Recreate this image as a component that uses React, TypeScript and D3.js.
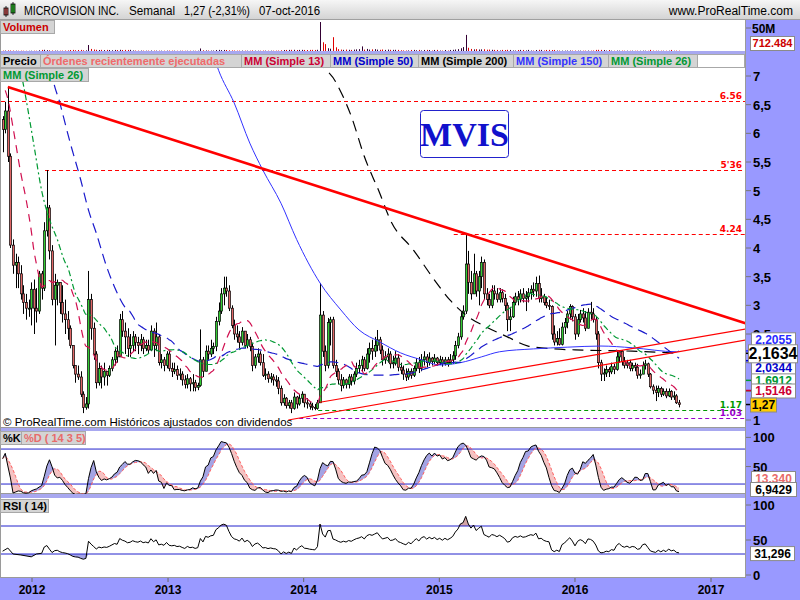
import React from 'react';
import * as d3 from 'd3';

// ---------- DATA ----------
const firstWeek = new Date(2011, 9, 14);
const firstOpen = 6.24;
const closes = [
  6.07, 6.39, 5.6, 4.05, 3.7, 3.75, 3.55, 3.2, 3.05, 2.95,
  2.95, 3.28, 2.95, 2.9, 3.55, 3.3, 4.3, 4.7, 3.95, 3.1,
  3.35, 3.4, 3.05, 2.85, 2.75, 2.6, 2.3, 1.95, 1.8, 1.75,
  1.45, 1.22, 1.28, 3.1, 2.6, 2.15, 1.65, 1.9, 1.75, 1.85,
  1.78, 1.9, 2.05, 2.2, 2.1, 2.75, 2.55, 2.45, 2.25, 2.3,
  2.45, 2.35, 2.3, 2.4, 2.25, 2.3, 2.22, 2.55, 2.3, 2.45,
  2.0, 2.05, 1.95, 2.15, 1.9, 1.85, 1.88, 1.78, 1.8, 1.7,
  1.62, 1.72, 1.63, 1.65, 1.57, 1.6, 2.05, 1.85, 2.2, 2.15,
  2.25, 2.28, 2.72, 2.9, 3.2, 3.3, 3.25, 2.95, 2.65, 2.5,
  2.45, 2.35, 2.55, 2.3, 2.4, 2.28, 1.95, 2.1, 2.15, 2.0,
  1.78, 1.8, 1.72, 1.75, 1.7, 1.68, 1.55, 1.3, 1.38, 1.25,
  1.3, 1.2, 1.4, 1.28, 1.38, 1.45, 1.3, 1.28, 1.24, 1.22,
  1.2, 1.3, 2.83, 2.2, 1.95, 2.7, 2.75, 1.95, 1.85, 1.7,
  1.6, 1.7, 1.62, 1.75, 1.68, 1.8, 1.9, 1.95, 2.05, 1.9,
  2.15, 2.25, 2.2, 2.3, 2.4, 2.22, 2.05, 2.1, 2.15, 1.98,
  2.0, 2.08, 1.92, 1.87, 1.8, 1.75, 1.85, 1.78, 1.9, 2.0,
  1.9, 2.05, 2.1, 2.0, 2.08, 2.02, 2.08, 2.0, 2.05, 1.98,
  2.05, 2.0, 2.05, 2.12, 2.3, 2.45, 2.8, 2.9, 3.72, 3.4,
  3.2, 3.55, 3.25, 3.5, 3.75, 3.2, 3.1, 3.0, 3.25, 3.2,
  3.1, 3.22, 3.12, 3.0, 2.75, 2.8, 3.05, 3.15, 3.1, 3.2,
  3.12, 3.15, 3.22, 3.28, 3.25, 3.38, 3.12, 3.15, 3.05, 3.0,
  2.98, 2.5, 2.36, 2.42, 2.32, 2.62, 2.7, 2.85, 2.98, 2.8,
  2.5, 2.75, 2.85, 2.78, 2.6, 2.88, 2.85, 2.75, 2.5, 2.0,
  1.8, 1.82, 1.88, 1.84, 1.93, 1.88, 2.1, 2.2, 2.02, 1.95,
  2.0, 1.9, 1.95, 1.92, 1.78, 1.8, 1.95, 1.98, 1.8, 1.58,
  1.52, 1.48, 1.55, 1.45, 1.5, 1.42, 1.5, 1.4, 1.42, 1.3, 1.27,
];
const highs = [
  6.3, 6.55, 6.81, 5.65, 4.15, 3.9, 3.85, 3.7, 3.35, 3.2,
  3.1, 3.4, 3.45, 3.3, 3.6, 3.6, 4.45, 5.36, 4.75, 4.05,
  3.55, 3.45, 3.4, 3.35, 3.1, 2.9, 2.65, 2.3, 1.95, 1.95,
  1.85, 1.5, 1.4, 3.6, 3.2, 2.7, 2.2, 2.0, 1.95, 2.0,
  1.85, 1.95, 2.1, 2.25, 2.3, 2.85, 2.9, 2.7, 2.6, 2.5,
  2.55, 2.5, 2.45, 2.5, 2.45, 2.4, 2.4, 2.65, 2.6, 2.7,
  2.5, 2.15, 2.1, 2.2, 2.2, 2.0, 2.0, 1.95, 1.9, 1.85,
  1.78, 1.8, 1.75, 1.8, 1.7, 1.65, 2.58, 2.1, 2.3, 2.3,
  2.4, 2.35, 2.8, 3.05, 3.3, 3.5, 3.5, 3.35, 3.0, 2.75,
  2.65, 2.55, 2.62, 2.55, 2.5, 2.45, 2.35, 2.15, 2.25, 2.2,
  2.15, 1.9, 1.85, 1.82, 1.8, 1.78, 1.75, 1.6, 1.45, 1.4,
  1.35, 1.35, 1.48, 1.42, 1.45, 1.5, 1.45, 1.38, 1.32, 1.3,
  1.28, 1.35, 3.39, 2.9, 2.3, 2.78, 2.8, 2.8, 2.05, 1.9,
  1.8, 1.75, 1.72, 1.8, 1.8, 1.85, 2.0, 2.05, 2.12, 2.1,
  2.25, 2.35, 2.4, 2.45, 2.57, 2.45, 2.3, 2.2, 2.25, 2.2,
  2.12, 2.2, 2.15, 2.0, 1.95, 1.9, 1.9, 1.9, 1.95, 2.08,
  2.1, 2.15, 2.2, 2.15, 2.18, 2.1, 2.15, 2.1, 2.12, 2.1,
  2.1, 2.1, 2.15, 2.2, 2.38, 2.52, 2.88, 3.0, 4.23, 3.95,
  3.6, 3.9, 3.6, 3.6, 3.85, 3.8, 3.3, 3.2, 3.35, 3.35,
  3.3, 3.3, 3.28, 3.2, 3.05, 2.95, 3.15, 3.22, 3.25, 3.28,
  3.3, 3.25, 3.3, 3.35, 3.4, 3.5, 3.52, 3.3, 3.2, 3.15,
  3.1, 3.0, 2.65, 2.55, 2.6, 2.7, 2.78, 2.9, 3.02, 3.0,
  2.85, 2.85, 2.92, 2.95, 2.9, 2.95, 3.06, 2.95, 2.8, 2.55,
  2.05, 1.9, 1.95, 1.92, 2.0, 1.98, 2.2, 2.22, 2.22, 2.1,
  2.05, 2.05, 2.0, 2.0, 1.98, 1.88, 2.02, 2.05, 2.0, 1.82,
  1.62, 1.6, 1.6, 1.58, 1.55, 1.55, 1.55, 1.52, 1.5, 1.45, 1.35,
];
const lows = [
  5.67, 6.0, 5.5, 4.0, 3.55, 3.3, 3.3, 3.1, 2.85, 2.75,
  2.8, 2.65, 2.5, 2.7, 2.85, 3.1, 3.25, 4.2, 3.8, 3.0,
  2.3, 3.0, 2.85, 2.7, 2.5, 2.4, 2.25, 1.9, 1.65, 1.7,
  1.4, 1.12, 1.18, 1.2, 2.4, 2.05, 1.55, 1.6, 1.55, 1.6,
  1.6, 1.75, 1.85, 1.95, 2.0, 2.1, 2.45, 2.15, 2.1, 2.1,
  2.2, 2.2, 2.15, 2.2, 2.15, 2.2, 2.15, 2.2, 2.1, 2.2,
  1.95, 1.9, 1.85, 1.9, 1.85, 1.75, 1.8, 1.7, 1.7, 1.6,
  1.55, 1.55, 1.5, 1.5, 1.5, 1.52, 1.58, 1.75, 1.85, 2.05,
  2.1, 2.15, 2.2, 2.65, 2.85, 3.0, 3.15, 2.9, 2.6, 2.4,
  2.35, 2.25, 2.3, 2.25, 2.25, 2.2, 1.85, 1.9, 2.0, 1.95,
  1.75, 1.7, 1.65, 1.65, 1.6, 1.58, 1.45, 1.25, 1.25, 1.2,
  1.2, 1.12, 1.18, 1.2, 1.25, 1.3, 1.22, 1.2, 1.18, 1.17,
  1.17, 1.18, 1.3, 2.1, 1.85, 1.9, 2.3, 1.9, 1.75, 1.62,
  1.5, 1.55, 1.55, 1.55, 1.6, 1.62, 1.75, 1.82, 1.85, 1.85,
  1.88, 2.0, 2.05, 2.1, 2.2, 2.15, 1.95, 1.98, 2.0, 1.9,
  1.9, 1.95, 1.85, 1.8, 1.7, 1.68, 1.7, 1.72, 1.75, 1.85,
  1.82, 1.85, 1.95, 1.92, 1.95, 1.95, 1.98, 1.95, 1.96, 1.93,
  1.95, 1.93, 1.98, 1.98, 2.05, 2.25, 2.4, 2.75, 2.85, 3.2,
  3.1, 3.2, 3.15, 3.0, 3.3, 3.1, 3.0, 2.95, 2.95, 3.1,
  3.05, 3.05, 3.05, 2.9, 2.55, 2.55, 2.78, 3.0, 3.0, 3.05,
  3.05, 2.9, 3.05, 3.1, 3.15, 3.15, 3.05, 3.05, 3.0, 2.95,
  2.92, 2.4, 2.3, 2.3, 2.3, 2.3, 2.5, 2.6, 2.75, 2.72,
  2.4, 2.45, 2.7, 2.7, 2.55, 2.6, 2.75, 2.7, 2.4, 1.9,
  1.68, 1.68, 1.75, 1.75, 1.8, 1.8, 1.86, 2.0, 1.95, 1.9,
  1.9, 1.85, 1.85, 1.85, 1.72, 1.72, 1.8, 1.88, 1.75, 1.55,
  1.45, 1.33, 1.4, 1.4, 1.42, 1.38, 1.4, 1.35, 1.35, 1.28, 1.22,
];
// weekly volume, millions of shares
const volumes = [
  0.8, 0.9, 1.2, 1.0, 0.9, 0.7, 0.6, 0.7, 0.6, 0.5,
  0.5, 0.6, 0.7, 0.6, 1.5, 2.4, 2.6, 1.8, 1.5, 1.0,
  0.9, 0.8, 0.7, 0.8, 1.0, 1.2, 2.2, 2.4, 1.6, 2.2,
  2.4, 1.5, 1.4, 13, 4.5, 3.2, 2.6, 2.2, 2.5, 2.0,
  2.4, 2.2, 1.6, 2.3, 2.0, 2.6, 2.2, 2.4, 2.3, 2.5,
  1.2, 1.0, 0.8, 0.9, 0.8, 0.7, 0.8, 1.0, 0.9, 0.8,
  0.8, 0.7, 0.7, 0.8, 0.9, 0.8, 0.7, 0.6, 0.6, 0.7,
  0.6, 0.6, 0.7, 0.6, 0.6, 0.7, 5.5, 1.5, 1.2, 1.0,
  0.9, 1.0, 2.2, 2.4, 2.0, 2.3, 2.2, 1.5, 1.2, 1.0,
  0.8, 0.8, 0.9, 0.8, 0.7, 0.7, 1.2, 0.8, 0.7, 0.7,
  0.9, 0.8, 0.7, 0.7, 0.7, 0.8, 0.9, 1.5, 2.2, 2.3,
  2.4, 2.5, 2.6, 2.2, 2.4, 2.5, 2.3, 2.2, 2.4, 2.5,
  2.3, 2.6, 63, 19, 15, 6, 5, 30, 8, 4,
  3, 2.5, 3, 2.6, 2.4, 3, 3.5, 4, 10, 3,
  4.5, 3, 3.5, 4, 3, 2.6, 3.2, 2.4, 3, 2.6,
  2.5, 2.6, 2.4, 1.5, 1.2, 1.0, 1.2, 2.3, 2.4, 1.5,
  2.4, 1.2, 2.3, 2.4, 2.2, 1.0, 2.3, 2.4, 1.0, 0.9,
  2.2, 1.0, 2.3, 2.6, 3.2, 4, 6, 8.5, 35, 7,
  4.5, 3.5, 4, 3.2, 3.5, 3.8, 2.8, 3, 2.6, 2.4,
  2.3, 1.2, 2.4, 2.2, 2.5, 2.3, 1.2, 1.0, 2.2, 2.4,
  2.3, 1.2, 2.4, 1.0, 0.9, 2.2, 2.5, 2.4, 1.2, 2.3,
  2.4, 2.2, 2.3, 1.0, 0.9, 0.8, 0.8, 0.9, 1.0, 0.8,
  0.9, 0.8, 0.8, 0.7, 0.8, 0.9, 0.8, 1.0, 2.4, 2.5,
  2.4, 2.2, 0.9, 2.2, 0.8, 0.7, 0.9, 0.8, 0.8, 0.7,
  0.7, 0.6, 0.7, 0.6, 0.7, 0.6, 0.8, 0.7, 0.6, 2.4,
  0.8, 0.7, 0.6, 0.7, 0.6, 0.6, 0.7, 2.3, 0.6, 0.8, 0.71,
];
const sma13Lead = [[1, 6.75], [2, 6.6], [4, 6.1], [7, 5.3], [9, 4.85], [11, 4.3]];
const sma26Lead = [[6, 7.4], [7, 7.1], [9, 6.6], [12, 5.8], [15, 5.0], [18, 4.5], [21, 4.15], [24, 3.75]];
const sma50Lead = [[18, 7.4], [19, 7.05], [22, 6.53], [26, 5.83], [30, 5.19], [33, 4.66], [36, 4.26], [40, 3.67], [43, 3.32], [47, 2.97]];
const sma150Pts = [[80, 7.5], [83, 7.1], [89, 6.53], [95, 5.83], [100, 5.36], [107, 4.78], [113, 4.15], [122, 3.39], [130, 2.92], [137, 2.57], [145, 2.36], [153, 2.17], [161, 2.05], [168, 1.96], [176, 2.0], [184, 2.1], [191, 2.19], [204, 2.24], [217, 2.27], [230, 2.29], [242, 2.26], [259, 2.19], [260, 2.2055]];
const sma200Pts = [[119, 7.6], [121, 7.35], [128, 6.9], [134, 6.3], [139, 5.6], [145, 4.95], [149, 4.49], [158, 3.96], [166, 3.44], [172, 3.09], [179, 2.8], [186, 2.62], [194, 2.45], [202, 2.29], [212, 2.24], [223, 2.22], [242, 2.2], [260, 2.1634]];
const rsiLead = [[0, 34], [2, 38.5], [4, 30], [7, 28.6], [11, 26], [13, 30], [15, 31], [16, 40]];

const priceTicks = [1, 1.5, 2, 2.5, 3, 3.5, 4, 4.5, 5, 5.5, 6, 6.5, 7];
const yearTicks = [2012, 2013, 2014, 2015, 2016, 2017];
const levels = [
  { v: 6.56, label: '6.56', color: '#ff0000', from: -2 },
  { v: 5.36, label: "5'36", color: '#ff0000', from: 16.3 },
  { v: 4.24, label: '4.24', color: '#ff0000', from: 173.4 },
  { v: 1.17, label: '1.17', color: '#009900', from: 121.3 },
  { v: 1.03, label: '1.03', color: '#9900cc', from: 114 },
];
const trendLines = [
  { a: [2, 6.81], b: [286, 2.68], w: 2.6 },
  { a: [122, 1.31], b: [286, 2.59], w: 1.2 },
  { a: [109.8, 1.0], b: [286, 2.4], w: 1.2 },
];
const maLabels = [
  { v: 2.2055, text: '2,2055', color: '#2a2aff', slot: -1 },
  { v: 2.1634, text: '2,1634', color: '#000000', slot: 0 },
  { v: 2.0344, text: '2,0344', color: '#0000cc', slot: 1 },
  { v: 1.6912, text: '1,6912', color: '#009933', slot: 2 },
  { v: 1.5146, text: '1,5146', color: '#cc0033', slot: 2 },
];
const lastPrice = { v: 1.27, text: '1,27' };
const stochLabels = { k: '6,9429', d: '13,340' };
const rsiLabel = '31,296';
const volLabel = '712.484';
const titleParts = [
  { t: 'MICROVISION INC.', x: 24, w: 95 },
  { t: 'Semanal', x: 129, w: 46 },
  { t: '1,27 (-2,31%)', x: 184, w: 66 },
  { t: '07-oct-2016', x: 259, w: 61 },
];
const legendItems = [
  { t: 'Precio', c: '#000000', x0: 1, x1: 40 },
  { t: 'Órdenes recientemente ejecutadas', c: '#f06a6a', x0: 41, x1: 241 },
  { t: 'MM (Simple 13)', c: '#cc0033', x0: 242, x1: 330 },
  { t: 'MM (Simple 50)', c: '#0000cc', x0: 331, x1: 418 },
  { t: 'MM (Simple 200)', c: '#000000', x0: 419, x1: 513 },
  { t: 'MM (Simple 150)', c: '#3333ff', x0: 514, x1: 608 },
  { t: 'MM (Simple 26)', c: '#009933', x0: 609, x1: 697 },
];

// ---------- HELPERS ----------
const FONT = '"Liberation Sans", Arial, Helvetica, sans-serif';
const PURPLE = '#9999ff';
const xS = d3.scaleTime().domain([new Date(2012, 0, 1), new Date(2017, 0, 1)]).range([32, 711]);
const wx = (i: number) => xS(new Date(firstWeek.getTime() + i * 7 * 864e5));
const yP = d3.scaleLinear().domain([1, 7]).range([420, 76]);
const yV = d3.scaleLinear().domain([0, 50]).range([51, 28]);
const yK = d3.scaleLinear().domain([0, 100]).range([495.7, 437.4]);
const yR = d3.scaleLinear().domain([0, 100]).range([575, 505]);

const opens = closes.map((c, i) => (i === 0 ? firstOpen : closes[i - 1]));
const sma = (arr: number[], n: number) => arr.map((_, i) => (i < n - 1 ? null : (d3.mean(arr.slice(i - n + 1, i + 1)) as number)));
const withLead = (lead: number[][], arr: (number | null)[], from = 0) => {
  const pts = lead.slice();
  arr.forEach((v, i) => { if (v != null && i >= from) pts.push([i, v]); });
  return pts;
};
const s13 = withLead(sma13Lead, sma(closes, 13));
const s26 = withLead(sma26Lead, sma(closes, 26));
const s50 = withLead(sma50Lead, sma(closes, 50));

// stochastic 14,3,5
const rawK = closes.map((c, i) => {
  const s = Math.max(0, i - 13);
  const hh = d3.max(highs.slice(s, i + 1)) as number;
  const ll = d3.min(lows.slice(s, i + 1)) as number;
  return hh === ll ? 50 : ((c - ll) / (hh - ll)) * 100;
});
const kLine = rawK.map((_, i) => d3.mean(rawK.slice(Math.max(0, i - 2), i + 1)) as number);
const dLine = kLine.map((_, i) => d3.mean(kLine.slice(Math.max(0, i - 4), i + 1)) as number);

// RSI 14 (Wilder)
const rsiCalc: (number | null)[] = [null];
{
  let ag = 0, al = 0;
  for (let i = 1; i < closes.length; i++) {
    const ch = closes[i] - closes[i - 1];
    const g = Math.max(ch, 0), l = Math.max(-ch, 0);
    if (i <= 14) { ag = (ag * (i - 1) + g) / i; al = (al * (i - 1) + l) / i; }
    else { ag = (ag * 13 + g) / 14; al = (al * 13 + l) / 14; }
    rsiCalc.push(al === 0 ? 100 : 100 - 100 / (1 + ag / al));
  }
}
const rsiPts = withLead(rsiLead, rsiCalc, 17);

const maLine = d3.line<number[]>().x((d) => wx(d[0])).y((d) => yP(d[1])).curve(d3.curveMonotoneX);
const fmt = (v: number) => String(v).replace('.', ',');

function Box({ x, y, w, h, text, color, size = 12, fill = '#ffffff' }: any) {
  return (
    <g>
      <rect x={x + 0.5} y={y + 0.5} width={w} height={h} fill={fill} stroke="#8a8a8a" strokeWidth={1} />
      <text x={x + 0.5 + w / 2} y={y + h / 2 + size * 0.38} textAnchor="middle" fontSize={size} fontWeight="bold" fill={color} fontFamily={FONT}>{text}</text>
    </g>
  );
}

function Tag({ x, y, w, text, color }: any) {
  return (
    <g>
      <rect x={x + 0.5} y={y + 0.5} width={w} height={13} fill="#d4d4d4" stroke="#a8a8a8" />
      <text x={x + 3} y={y + 11} fontSize={11} fontWeight="bold" fill={color} fontFamily={FONT}>{text}</text>
    </g>
  );
}

export default function App() {
  const kPts = kLine.map((v, i) => [i, v]);
  const dPts = dLine.map((v, i) => [i, v]);
  const stochLine = d3.line<number[]>().x((d) => wx(d[0])).y((d) => yK(d[1]));
  const areaUp = d3.area<number>().x((_, i) => wx(i)).y0((_, i) => yK(dLine[i])).y1((_, i) => yK(Math.max(kLine[i], dLine[i])));
  const areaDn = d3.area<number>().x((_, i) => wx(i)).y0((_, i) => yK(dLine[i])).y1((_, i) => yK(Math.min(kLine[i], dLine[i])));
  const rsiLine = d3.line<number[]>().x((d) => wx(d[0])).y((d) => yR(d[1]));
  const rsiHi = d3.area<number[]>().x((d) => wx(d[0])).y0(yR(70)).y1((d) => yR(Math.max(d[1], 70)));
  const rsiLo = d3.area<number[]>().x((d) => wx(d[0])).y0(yR(30)).y1((d) => yR(Math.min(d[1], 30)));

  const bigY = yP(2.1634);
  const slotY = (slot: number, v: number) => (slot === 2 ? yP(v) : bigY + slot * 14);
  const boxYs = maLabels.map((m) => slotY(m.slot, m.v)).concat([yP(lastPrice.v)]);
  const tickHidden = (t: number) => boxYs.some((by) => Math.abs(by - yP(t)) < 5);

  return (
    <svg width={800} height={600} style={{ position: 'absolute', left: 0, top: 0 }} fontFamily={FONT}>
      <defs>
        <linearGradient id="hdr" x1="0" y1="0" x2="0" y2="1">
          <stop offset="0" stopColor="#f6f6f6" />
          <stop offset="1" stopColor="#d2d2d2" />
        </linearGradient>
        <clipPath id="cP"><rect x={1} y={54} width={744} height={374} /></clipPath>
        <clipPath id="cV"><rect x={1} y={20} width={744} height={31} /></clipPath>
        <clipPath id="cK"><rect x={1} y={431} width={744} height={63} /></clipPath>
        <clipPath id="cR"><rect x={1} y={499} width={744} height={78} /></clipPath>
      </defs>
      {/* backgrounds */}
      <rect x={0} y={0} width={800} height={600} fill={PURPLE} />
      <rect x={0} y={20} width={746} height={31} fill="#fff" />
      <rect x={0} y={54} width={746} height={374} fill="#fff" />
      <rect x={0} y={431} width={746} height={63} fill="#fff" />
      <rect x={0} y={498} width={746} height={79} fill="#fff" />
      <rect x={0} y={51} width={746} height={3} fill="#a8a8f0" />
      <rect x={0} y={428} width={746} height={3} fill="#a8a8f0" />
      <rect x={0} y={494} width={746} height={4} fill="#a8a8f0" />
      <line x1={0.5} y1={20} x2={0.5} y2={577} stroke="#9a9a9a" />
      <line x1={745.5} y1={20} x2={745.5} y2={577} stroke="#9a9a9a" />
      <line x1={0} y1={577.5} x2={746} y2={577.5} stroke="#9a9a9a" />
      <line x1={0} y1={427.5} x2={746} y2={427.5} stroke="#9a9a9a" />
      <line x1={0} y1={493.5} x2={746} y2={493.5} stroke="#9a9a9a" />

      {/* header */}
      <rect x={0} y={0} width={800} height={20} fill="url(#hdr)" />
      <line x1={0} y1={19.5} x2={800} y2={19.5} stroke="#a0a0a0" />
      <rect x={4} y={8} width={4} height={7} fill="#e06060" stroke="#000" strokeWidth={0.8} />
      <line x1={6} y1={6} x2={6} y2={17} stroke="#000" strokeWidth={0.8} />
      <rect x={11} y={4} width={4} height={9} fill="#33cc33" stroke="#000" strokeWidth={0.8} />
      <line x1={13} y1={2} x2={13} y2={15} stroke="#000" strokeWidth={0.8} />
      {titleParts.map((p, i) => (
        <text key={i} x={p.x} y={15} fontSize={12} fill="#000" textLength={p.w} lengthAdjust="spacingAndGlyphs">{p.t}</text>
      ))}
      <text x={793} y={15} fontSize={12} fill="#000" textAnchor="end">www.ProRealTime.com</text>

      {/* volume */}
      <g clipPath="url(#cV)">
        {volumes.map((v, i) => {
          const up = closes[i] >= opens[i];
          const x = Math.round(wx(i)) + 0.5;
          return <line key={i} x1={x} x2={x} y1={yV(0)} y2={yV(v)} stroke={up ? '#330033' : '#e00000'} strokeWidth={1} />;
        })}
      </g>
      <Tag x={0} y={20} w={54} text="Volumen" color="#cc0000" />
      <line x1={746} x2={751} y1={yV(50)} y2={yV(50)} stroke="#777" />
      <text x={752} y={yV(50) + 5} fontSize={12} fontWeight="bold" fill="#000">50M</text>
      <Box x={750} y={36} w={44} h={14} text={volLabel} color="#cc0000" size={11} />

      {/* price panel */}
      <g clipPath="url(#cP)">
        {levels.map((l, i) => (
          <line key={i} x1={Math.max(1, wx(l.from))} x2={745} y1={Math.round(yP(l.v)) + 0.5} y2={Math.round(yP(l.v)) + 0.5} stroke={l.color} strokeWidth={1} strokeDasharray="4,3" />
        ))}
        {closes.map((c, i) => {
          const o = opens[i];
          const x = Math.round(wx(i));
          const hi = Math.max(highs[i], o, c), lo = Math.min(lows[i], o, c);
          const top = yP(Math.max(o, c)), bot = yP(Math.min(o, c));
          return (
            <g key={i}>
              <line x1={x + 0.5} x2={x + 0.5} y1={yP(hi)} y2={yP(lo)} stroke="#000" strokeWidth={1} />
              <rect x={x - 0.5} y={top} width={2} height={Math.max(1, bot - top)} fill={c >= o ? '#33cc33' : '#e06666'} stroke="#000" strokeWidth={0.7} />
            </g>
          );
        })}
        <path d={maLine(sma200Pts as any) || ''} fill="none" stroke="#000" strokeWidth={1.2} strokeDasharray="11,7" />
        <path d={maLine(sma150Pts as any) || ''} fill="none" stroke="#3333ff" strokeWidth={1} />
        <path d={maLine(s50 as any) || ''} fill="none" stroke="#1a1acc" strokeWidth={1.2} strokeDasharray="10,6" />
        <path d={maLine(s26 as any) || ''} fill="none" stroke="#009933" strokeWidth={1.2} strokeDasharray="6,3,2,3" />
        <path d={maLine(s13 as any) || ''} fill="none" stroke="#d01050" strokeWidth={1.2} strokeDasharray="8,6" />
        {trendLines.map((t, i) => (
          <line key={i} x1={wx(t.a[0])} y1={yP(t.a[1])} x2={wx(t.b[0])} y2={yP(t.b[1])} stroke="#ff0000" strokeWidth={t.w} />
        ))}
        {levels.map((l, i) => (
          <text key={i} x={742} y={yP(l.v) - 2} textAnchor="end" fontSize={9} fontWeight="bold" fill={l.color} fontFamily="'DejaVu Sans', sans-serif">{l.label}</text>
        ))}
      </g>
      {/* legend */}
      {legendItems.map((l, i) => (
        <Tag key={i} x={l.x0 - 1} y={54} w={l.x1 - l.x0 + 1} text={l.t} color={l.c} />
      ))}
      <rect x={697.5} y={54.5} width={47} height={13} fill="#fff" stroke="#a8a8a8" />
      <Tag x={0} y={68} w={88} text="MM (Simple 26)" color="#009933" />
      {/* MVIS */}
      <rect x={420.5} y={110.5} width={88} height={47} rx={3} fill="#fff" stroke="#2222cc" strokeWidth={1} />
      <text x={464.5} y={146} textAnchor="middle" fontSize={34} fontWeight="bold" fill="#1111cc" fontFamily="'Liberation Serif', 'Times New Roman', serif">MVIS</text>
      <text x={3} y={426} fontSize={11.5} fill="#000">© ProRealTime.com  Históricos ajustados con dividendos</text>

      {/* price axis */}
      {priceTicks.map((t) => (
        <g key={t}>
          <line x1={746} x2={751} y1={yP(t)} y2={yP(t)} stroke="#777" />
          {!tickHidden(t) && <text x={753} y={yP(t) + 5} fontSize={13} fontWeight="bold" fill="#000">{fmt(t)}</text>}
        </g>
      ))}
      {maLabels.map((m, i) => (
        <line key={'t' + i} x1={746} x2={751} y1={yP(m.v)} y2={yP(m.v)} stroke={m.color} strokeWidth={1.5} />
      ))}
      {maLabels.filter((m) => m.slot !== 0).map((m, i) => {
        const cy = slotY(m.slot, m.v);
        return <Box key={i} x={751} y={cy - 7} w={44} h={14} text={m.text} color={m.color} size={12} />;
      })}
      {maLabels.filter((m) => m.slot === 0).map((m, i) => (
        <Box key={i} x={748} y={bigY - 9} w={49} h={18} text={m.text} color="#000" size={16} />
      ))}
      <line x1={746} x2={751} y1={yP(lastPrice.v)} y2={yP(lastPrice.v)} stroke="#000" strokeWidth={1.5} />
      <Box x={750} y={yP(lastPrice.v) - 7} w={26} h={14} text={lastPrice.text} color="#000" size={12} fill="#ffcc00" />

      {/* stochastic */}
      <g clipPath="url(#cK)">
        <path d={areaUp(kLine as any) || ''} fill="#a4a4e4" />
        <path d={areaDn(kLine as any) || ''} fill="#f5c2c2" />
        <line x1={0} x2={745} y1={yK(80)} y2={yK(80)} stroke="#2222cc" />
        <line x1={0} x2={745} y1={yK(20)} y2={yK(20)} stroke="#2222cc" />
        <path d={stochLine(dPts as any) || ''} fill="none" stroke="#ff6060" strokeWidth={1} strokeDasharray="3,2" />
        <path d={stochLine(kPts as any) || ''} fill="none" stroke="#000" strokeWidth={1} />
      </g>
      <Tag x={0} y={431} w={21} text="%K" color="#000" />
      <Tag x={21} y={431} w={64} text="%D ( 14 3 5)" color="#e86a6a" />
      {[100, 50].map((t) => (
        <g key={t}>
          <line x1={746} x2={751} y1={yK(t)} y2={yK(t)} stroke="#777" />
          <text x={753} y={yK(t) + 5} fontSize={13} fontWeight="bold" fill="#000">{t}</text>
        </g>
      ))}
      <Box x={751} y={471} w={44} h={14} text={stochLabels.d} color="#e86a6a" size={12} />
      <Box x={750} y={482} w={46} h={14} text={stochLabels.k} color="#000" size={12} />

      {/* RSI */}
      <g clipPath="url(#cR)">
        <path d={rsiHi(rsiPts as any) || ''} fill="#d4a4a4" />
        <path d={rsiLo(rsiPts as any) || ''} fill="#a4a4e4" />
        <line x1={0} x2={745} y1={yR(70)} y2={yR(70)} stroke="#2222cc" />
        <line x1={0} x2={745} y1={yR(30)} y2={yR(30)} stroke="#2222cc" />
        <path d={rsiLine(rsiPts as any) || ''} fill="none" stroke="#000" strokeWidth={1} />
      </g>
      <Tag x={0} y={499} w={48} text="RSI ( 14)" color="#000" />
      {[100, 50, 0].map((t) => (
        <g key={t}>
          <line x1={746} x2={751} y1={yR(t)} y2={yR(t)} stroke="#777" />
          <text x={753} y={yR(t) + 5} fontSize={13} fontWeight="bold" fill="#000">{t}</text>
        </g>
      ))}
      <Box x={750} y={yR(31.296) - 7} w={44} h={14} text={rsiLabel} color="#000" size={12} />

      {/* time axis */}
      {yearTicks.map((y) => {
        const x = xS(new Date(y, 0, 1));
        return (
          <g key={y}>
            <line x1={x} x2={x} y1={578} y2={582} stroke="#666" />
            <text x={x} y={594} textAnchor="middle" fontSize={12} fontWeight="bold" fill="#000">{y}</text>
          </g>
        );
      })}
    </svg>
  );
}
